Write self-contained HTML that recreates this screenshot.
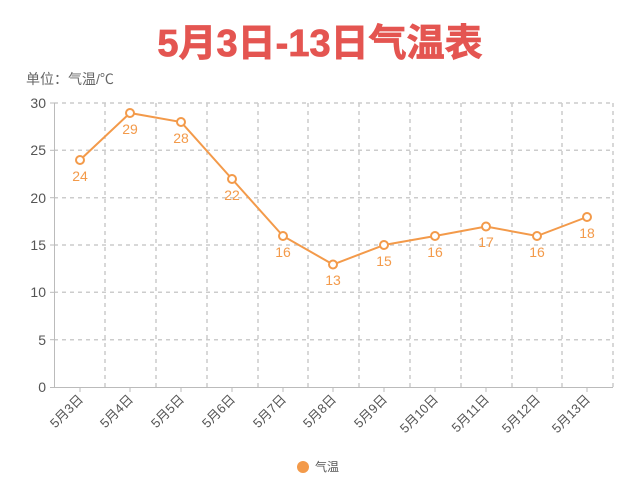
<!DOCTYPE html>
<html><head><meta charset="utf-8"><style>
body{margin:0;background:#fff;width:638px;height:500px;overflow:hidden}
svg{display:block;font-family:"Liberation Sans","Noto Sans CJK SC",sans-serif}
</style></head><body>
<svg width="638" height="500" viewBox="0 0 638 500">
<text x="320" y="56" text-anchor="middle" font-size="38" font-weight="bold" fill="#e45551" stroke="#e45551" stroke-width="0.8">5月3日-13日气温表</text>
<text x="26" y="84" font-size="14" fill="#666">单位：气温/℃</text>
<g stroke="#ccc" stroke-dasharray="4,4" stroke-width="1.5" fill="none">
<line x1="54" y1="103" x2="613" y2="103"/>
<line x1="54" y1="150.3" x2="613" y2="150.3"/>
<line x1="54" y1="197.7" x2="613" y2="197.7"/>
<line x1="54" y1="245" x2="613" y2="245"/>
<line x1="54" y1="292.3" x2="613" y2="292.3"/>
<line x1="54" y1="339.7" x2="613" y2="339.7"/>
<line x1="105" y1="103" x2="105" y2="387"/>
<line x1="156" y1="103" x2="156" y2="387"/>
<line x1="207" y1="103" x2="207" y2="387"/>
<line x1="258" y1="103" x2="258" y2="387"/>
<line x1="308" y1="103" x2="308" y2="387"/>
<line x1="359" y1="103" x2="359" y2="387"/>
<line x1="410" y1="103" x2="410" y2="387"/>
<line x1="461" y1="103" x2="461" y2="387"/>
<line x1="512" y1="103" x2="512" y2="387"/>
<line x1="562" y1="103" x2="562" y2="387"/>
<line x1="613" y1="103" x2="613" y2="387"/>
</g>
<g stroke="#bbb" stroke-width="1">
<line x1="54.5" y1="103" x2="54.5" y2="388"/>
<line x1="54" y1="387.5" x2="613" y2="387.5"/>
<line x1="50" y1="103" x2="54" y2="103"/><line x1="50" y1="150.3" x2="54" y2="150.3"/><line x1="50" y1="197.7" x2="54" y2="197.7"/><line x1="50" y1="245" x2="54" y2="245"/><line x1="50" y1="292.3" x2="54" y2="292.3"/><line x1="50" y1="339.7" x2="54" y2="339.7"/><line x1="50" y1="387.5" x2="54" y2="387.5"/>
<line x1="80" y1="388" x2="80" y2="392"/><line x1="130" y1="388" x2="130" y2="392"/><line x1="181" y1="388" x2="181" y2="392"/><line x1="232" y1="388" x2="232" y2="392"/><line x1="283" y1="388" x2="283" y2="392"/><line x1="333" y1="388" x2="333" y2="392"/><line x1="384" y1="388" x2="384" y2="392"/><line x1="435" y1="388" x2="435" y2="392"/><line x1="486" y1="388" x2="486" y2="392"/><line x1="537" y1="388" x2="537" y2="392"/><line x1="587" y1="388" x2="587" y2="392"/>
</g>
<g font-size="14" fill="#555" text-anchor="end">
<text x="46" y="108">30</text><text x="46" y="155">25</text><text x="46" y="203">20</text><text x="46" y="250">15</text><text x="46" y="297">10</text><text x="46" y="345">5</text><text x="46" y="392">0</text>
</g>
<g font-size="13" fill="#555" text-anchor="end">
<text transform="translate(84,400) rotate(-45)">5月3日</text>
<text transform="translate(134,400) rotate(-45)">5月4日</text>
<text transform="translate(185,400) rotate(-45)">5月5日</text>
<text transform="translate(236,400) rotate(-45)">5月6日</text>
<text transform="translate(287,400) rotate(-45)">5月7日</text>
<text transform="translate(337,400) rotate(-45)">5月8日</text>
<text transform="translate(388,400) rotate(-45)">5月9日</text>
<text transform="translate(439,400) rotate(-45)">5月10日</text>
<text transform="translate(490,400) rotate(-45)">5月11日</text>
<text transform="translate(541,400) rotate(-45)">5月12日</text>
<text transform="translate(591,400) rotate(-45)">5月13日</text>
</g>
<polyline fill="none" stroke="#f39a4a" stroke-width="2" points="80,160 130,113 181,122 232,179 283,236 333,264.5 384,245 435,236 486,226.5 537,236 587,217"/>
<g fill="#fff" stroke="#f39a4a" stroke-width="2">
<circle cx="80" cy="160" r="4"/><circle cx="130" cy="113" r="4"/><circle cx="181" cy="122" r="4"/><circle cx="232" cy="179" r="4"/><circle cx="283" cy="236" r="4"/><circle cx="333" cy="264.5" r="4"/><circle cx="384" cy="245" r="4"/><circle cx="435" cy="236" r="4"/><circle cx="486" cy="226.5" r="4"/><circle cx="537" cy="236" r="4"/><circle cx="587" cy="217" r="4"/>
</g>
<g font-size="14" fill="#f39a4a" text-anchor="middle">
<text x="80" y="181">24</text><text x="130" y="134">29</text><text x="181" y="143">28</text><text x="232" y="200">22</text><text x="283" y="257">16</text><text x="333" y="285">13</text><text x="384" y="266">15</text><text x="435" y="257">16</text><text x="486" y="247">17</text><text x="537" y="257">16</text><text x="587" y="238">18</text>
</g>
<circle cx="303" cy="467" r="6" fill="#f39a4a"/>
<text x="315" y="471" font-size="12" fill="#555">气温</text>
</svg>
</body></html>
